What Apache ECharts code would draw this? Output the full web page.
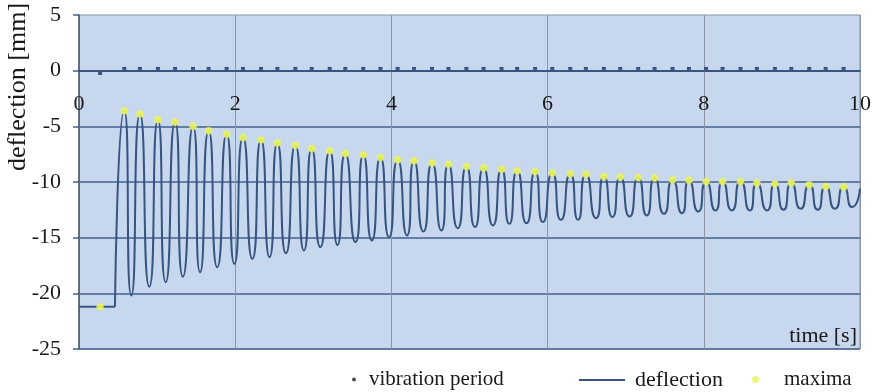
<!DOCTYPE html>
<html>
<head>
<meta charset="utf-8">
<script src="https://cdn.jsdelivr.net/npm/echarts@6/dist/echarts.min.js"></script>
<style>
  html, body { margin: 0; padding: 0; background: #fff; }
  #chart { width: 877px; height: 392px; }
</style>
</head>
<body>
<div id="chart"></div>
<script>
// initial step (before release)
const stepT = [0, 0.46]
const stepY = [-21.2, -21.2]
// first marker (static position)
const firstT = 0.27
const firstMaxY = -21.2
// maxima of the oscillation
const peakT = [0.58, 0.78, 1.01, 1.23, 1.46, 1.66, 1.89, 2.10, 2.33, 2.54, 2.77, 2.98, 3.21, 3.41, 3.64,
  3.86, 4.08, 4.29, 4.52, 4.73, 4.96, 5.18, 5.41, 5.61, 5.84, 6.06, 6.29, 6.49, 6.72, 6.93,
  7.16, 7.37, 7.60, 7.81, 8.03, 8.24, 8.47, 8.68, 8.91, 9.12, 9.35, 9.56, 9.79]
const peakY = [-3.6, -3.9, -4.4, -4.6, -5.0, -5.4, -5.7, -6.0, -6.2, -6.5, -6.7, -7.0, -7.2, -7.45, -7.55,
  -7.8, -8.0, -8.1, -8.3, -8.4, -8.6, -8.75, -8.85, -9.0, -9.05, -9.2, -9.25, -9.3, -9.5, -9.55,
  -9.6, -9.65, -9.8, -9.85, -9.95, -9.95, -9.95, -10.1, -10.15, -10.1, -10.25, -10.4, -10.45]
// minima of the oscillation
const valleyT = [0.67, 0.90, 1.11, 1.33, 1.55, 1.77, 1.99, 2.22, 2.44, 2.65, 2.88, 3.09, 3.31, 3.54, 3.75,
  3.97, 4.20, 4.41, 4.64, 4.85, 5.07, 5.30, 5.51, 5.73, 5.94, 6.17, 6.39, 6.62, 6.83, 7.05,
  7.27, 7.49, 7.72, 7.93, 8.15, 8.36, 8.59, 8.81, 9.02, 9.24, 9.46, 9.68, 9.90]
const valleyY = [-20.2, -19.4, -19.0, -18.5, -18.1, -17.65, -17.35, -16.9, -16.75, -16.4, -16.15, -15.85, -15.65, -15.4, -15.25,
  -14.95, -14.8, -14.45, -14.35, -14.15, -14.05, -13.9, -13.75, -13.7, -13.6, -13.4, -13.4, -13.25, -13.15, -13.1,
  -13.0, -12.85, -12.8, -12.65, -12.55, -12.55, -12.55, -12.55, -12.5, -12.4, -12.5, -12.4, -12.25]
// last sample at t = 10
const endT = 10
const endY = -10.6
// vibration period marks (one per maximum, first one at the start marker)
const periodY = [-0.25, 0.2, 0.2, 0.2, 0.2, 0.2, 0.2, 0.2, 0.2, 0.2, 0.2, 0.2, 0.2, 0.2, 0.2, 0.2,
  0.2, 0.2, 0.2, 0.2, 0.2, 0.2, 0.2, 0.2, 0.2, 0.2, 0.2, 0.2, 0.2, 0.2, 0.2,
  0.2, 0.2, 0.2, 0.2, 0.2, 0.2, 0.2, 0.2, 0.2, 0.2, 0.2, 0.2, 0.2]
const yTicks = [-25, -20, -15, -10, -5, 0, 5]

const FONT = 'Liberation Serif'
const LINE = '#36547f'
const GRID_H = '#44618d'
const GRID_V = '#8a96a4'

const stepData = stepT.map((t, i) => [t, stepY[i]])
const oscData = [[stepT[1], stepY[1]]]
peakT.forEach((t, i) => {
  oscData.push([t, peakY[i]])
  oscData.push([valleyT[i], valleyY[i]])
})
oscData.push([endT, endY])

const markT = [firstT].concat(peakT)
const maximaData = [[firstT, firstMaxY]].concat(peakT.map((t, i) => [t, peakY[i]]))
const periodData = markT.map((t, i) => [t, periodY[i]])

const chart = echarts.init(document.getElementById('chart'))
const option = {
  animation: false,
  grid: {
    left: 79,
    right: 17,
    top: 15,
    bottom: 43,
    show: true,
    backgroundColor: '#c7d7ee',
    borderColor: GRID_V,
    borderWidth: 1,
    outerBoundsMode: 'none'
  },
  title: {
    text: 'time [s]',
    right: 20,
    top: 325,
    padding: 0,
    textStyle: { fontFamily: FONT, fontSize: 22, fontWeight: 'normal', color: '#1a1a1a' }
  },
  graphic: [{
    type: 'text',
    x: 18,
    y: 87,
    rotation: Math.PI / 2,
    style: {
      text: 'deflection [mm]',
      font: '26px "Liberation Serif"',
      fill: '#1a1a1a',
      align: 'center',
      verticalAlign: 'middle'
    }
  }],
  legend: [
    {
      data: [{ name: 'vibration period', icon: 'circle', itemStyle: { color: '#222' } }],
      left: 352,
      top: 369,
      itemWidth: 4,
      itemHeight: 4,
      padding: 0,
      textStyle: { fontFamily: FONT, fontSize: 21, color: '#1a1a1a', padding: [0, 0, 0, 8] }
    },
    {
      data: [{ name: 'deflection', icon: 'rect' }],
      left: 579,
      top: 369,
      itemWidth: 46,
      itemHeight: 2,
      padding: 0,
      textStyle: { fontFamily: FONT, fontSize: 22, color: '#1a1a1a', padding: [0, 0, 0, 5] }
    },
    {
      data: [{ name: 'maxima', icon: 'circle' }],
      left: 752,
      top: 369,
      itemWidth: 7,
      itemHeight: 7,
      padding: 0,
      textStyle: { fontFamily: FONT, fontSize: 21, color: '#1a1a1a', padding: [0, 0, 0, 20] }
    }
  ],
  xAxis: {
    type: 'value',
    min: 0,
    max: 10,
    interval: 2,
    offset: -278,
    axisLine: { onZero: false, lineStyle: { color: '#2c4674', width: 1.5 } },
    axisTick: { show: false },
    axisLabel: { fontFamily: FONT, fontSize: 22, color: '#1a1a1a', margin: 22 },
    splitLine: { show: true, lineStyle: { color: GRID_V, width: 1 } }
  },
  yAxis: {
    type: 'value',
    min: yTicks[0],
    max: yTicks[yTicks.length - 1],
    interval: 5,
    axisLine: { show: true, onZero: false, lineStyle: { color: '#4c5768', width: 1.5 } },
    axisTick: { show: true, length: 6, lineStyle: { color: GRID_H, width: 1.5 } },
    axisLabel: { fontFamily: FONT, fontSize: 22, color: '#1a1a1a', margin: 18 },
    splitLine: { show: true, showMaxLine: false, lineStyle: { color: GRID_H, width: 1.5 } }
  },
  series: [
    {
      name: 'deflection',
      type: 'line',
      data: stepData,
      symbol: 'none',
      lineStyle: { color: LINE, width: 2 },
      itemStyle: { color: LINE },
      z: 3
    },
    {
      name: 'deflection',
      type: 'line',
      data: oscData,
      smooth: 0.8,
      symbol: 'none',
      lineStyle: { color: LINE, width: 2 },
      itemStyle: { color: LINE },
      z: 3
    },
    {
      name: 'vibration period',
      type: 'scatter',
      data: periodData,
      symbol: 'rect',
      symbolSize: [4, 3],
      itemStyle: { color: '#1b2f5a' },
      z: 4
    },
    {
      name: 'maxima',
      type: 'scatter',
      data: maximaData,
      symbol: 'circle',
      symbolSize: 7,
      itemStyle: { color: '#e8f25c', shadowBlur: 2, shadowColor: 'rgba(240,250,90,0.8)' },
      z: 5
    }
  ]
}
chart.setOption(option)
window.addEventListener('resize', () => chart.resize())
</script>
</body>
</html>
